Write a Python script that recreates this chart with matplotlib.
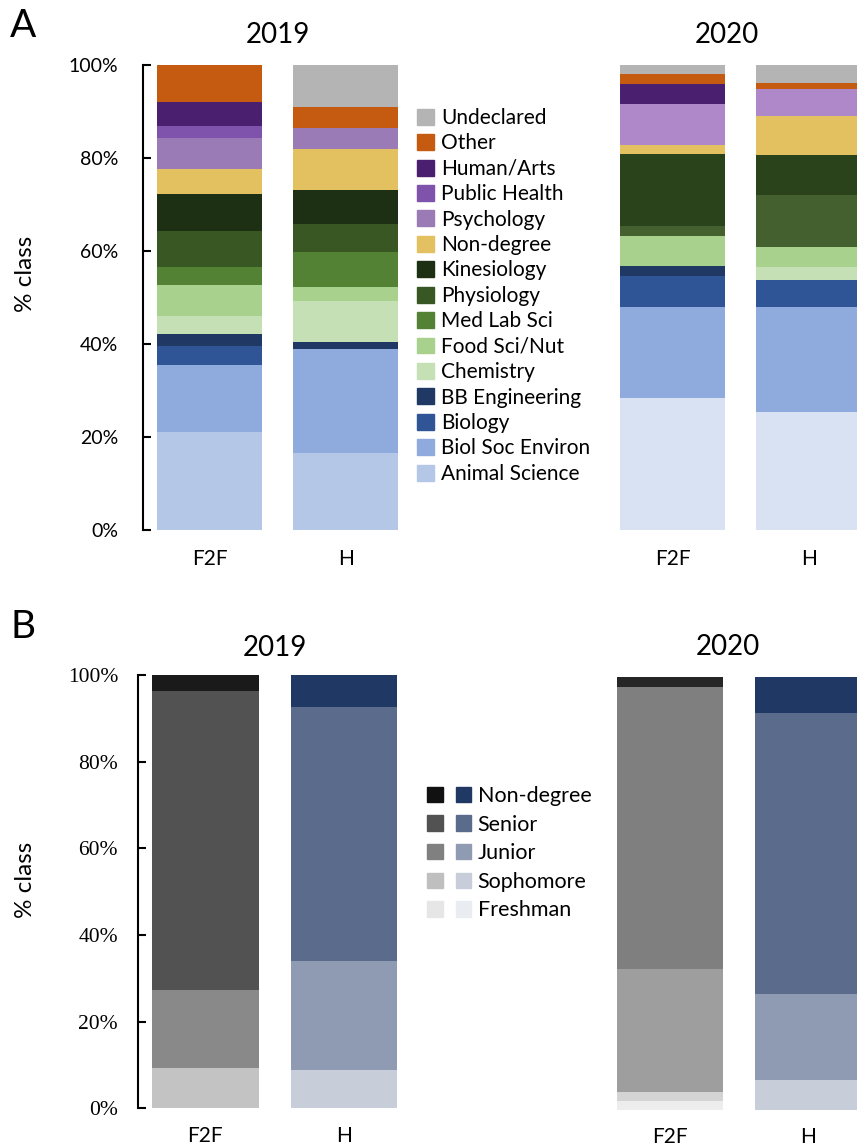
import matplotlib
matplotlib.use("Agg")
import matplotlib.pyplot as plt
from matplotlib.patches import Patch
from matplotlib.legend_handler import HandlerTuple

plt.rcParams['font.family'] = ['Lato', 'DejaVu Sans']

modes = ["F2F", "H"]
years = ["2019", "2020"]

# majors, listed bottom to top of each stacked bar
majors = ["Animal Science", "Biol Soc Environ", "Biology", "BB Engineering", "Chemistry",
          "Food Sci/Nut", "Med Lab Sci", "Physiology", "Kinesiology", "Non-degree",
          "Psychology", "Public Health", "Human/Arts", "Other", "Undeclared"]
f2f_2019 = [21.1, 14.4, 4.1, 2.6, 3.8, 6.6, 3.9, 7.9, 7.9, 5.3, 6.6, 2.6, 5.2, 8.0, 0.0]
h_2019 = [16.5, 22.4, 0.0, 1.5, 8.9, 2.9, 7.5, 6.0, 7.4, 8.9, 4.5, 0.0, 0.0, 4.4, 9.1]
f2f_2020 = [28.3, 19.7, 6.6, 2.2, 0.0, 6.5, 0.0, 2.1, 15.4, 2.1, 8.7, 0.0, 4.4, 2.1, 1.9]
h_2020 = [25.4, 22.6, 5.8, 0.0, 2.7, 4.4, 0.0, 11.2, 8.5, 8.5, 5.7, 0.0, 0.0, 1.4, 3.8]

major_colors = ["#b4c7e7", "#8faadc", "#2f5597", "#203864", "#c5e0b4",
                "#a9d18e", "#548235", "#385723", "#1e3014", "#e3c060",
                "#9b7bb5", "#7f52ac", "#4b1f6f", "#c55a11", "#b4b4b4"]
major_colors_2020 = ["#d9e2f3", "#8faadc", "#2f5597", "#203864", "#c5e0b4",
                     "#a9d18e", "#548235", "#44602f", "#2a431b", "#e3c060",
                     "#ae88c8", "#7f52ac", "#4b1f6f", "#c55a11", "#b4b4b4"]

# class standing, bottom to top
standing = ["Freshman", "Sophomore", "Junior", "Senior", "Non-degree"]
f2f_2019_cls = [0.0, 9.2, 18.2, 68.8, 3.8]
h_2019_cls = [0.0, 8.9, 25.0, 58.8, 7.3]
f2f_2020_cls = [2.1, 2.1, 28.4, 65.2, 2.2]
h_2020_cls = [0.0, 7.0, 19.8, 64.9, 8.3]

gray_2019 = ["#e8e8e8", "#c3c3c3", "#898989", "#525252", "#1a1a1a"]
gray_2020 = ["#ededed", "#d4d4d4", "#9e9e9e", "#7f7f7f", "#262626"]
blues = ["#e9ecf1", "#c8ced9", "#8f9bb3", "#5a6b8c", "#203864"]
gray_key = ["#e6e6e6", "#bfbfbf", "#808080", "#525252", "#111111"]

W, H = 857, 1147
fig = plt.figure(figsize=(W / 100, H / 100), dpi=100)


def px_axes(left, top, right, bottom):
    return fig.add_axes([left / W, 1 - bottom / H, (right - left) / W, (bottom - top) / H])


def stack(ax, x, values, colors):
    base = 0
    for v, c in zip(values, colors):
        ax.bar(x, v, 0.77, bottom=base, color=c, linewidth=0)
        base += v


def style(ax, show_y, serif, xpad):
    ax.set_ylim(0, 100)
    ax.set_xlim(-0.49, 1.5)
    ax.set_xticks([0, 1])
    ax.set_xticklabels(modes, fontsize=15)
    ax.tick_params(axis='x', length=0, pad=xpad)
    for s in ["top", "right", "bottom"]:
        ax.spines[s].set_visible(False)
    if show_y:
        ax.spines["left"].set_linewidth(1.5)
        ax.set_yticks(range(0, 101, 20))
        if serif:
            ax.set_yticklabels([f"{v}%" for v in range(0, 101, 20)],
                               family="Liberation Serif", fontsize=15.5)
            ax.tick_params(axis='y', direction='in', length=6, width=1.5, pad=14)
        else:
            ax.set_yticklabels([f"{v}%" for v in range(0, 101, 20)], fontsize=14)
            ax.tick_params(axis='y', direction='in', length=6, width=1.5, pad=18)
    else:
        ax.spines["left"].set_visible(False)
        ax.set_yticks([])


# Panel A: majors
axA1 = px_axes(143, 65, 413.6, 530)
stack(axA1, 0, f2f_2019, major_colors)
stack(axA1, 1, h_2019, major_colors)
style(axA1, True, False, 14)
axA1.set_title("2019", fontsize=20, pad=16)

axA2 = px_axes(606.2, 65, 876.8, 530)
stack(axA2, 0, f2f_2020, major_colors_2020)
stack(axA2, 1, h_2020, major_colors_2020)
style(axA2, False, False, 14)
axA2.set_title("2020", fontsize=20, pad=16, x=0.447)

handles = [Patch(color=c) for c in major_colors][::-1]
fig.legend(handles, majors[::-1], loc="upper left", bbox_to_anchor=(417 / W, 1 - 108 / H),
           frameon=False, fontsize=15, handlelength=0.8, handleheight=0.8,
           handletextpad=0.35, labelspacing=0.26, borderpad=0, borderaxespad=0)

# Panel B: class standing
axB1 = px_axes(137.5, 675, 413.3, 1108.3)
stack(axB1, 0, f2f_2019_cls, gray_2019)
stack(axB1, 1, h_2019_cls, blues)
style(axB1, True, True, 13)
axB1.set_title("2019", fontsize=20, pad=14)

axB2 = px_axes(602, 677, 877.8, 1110)
stack(axB2, 0, f2f_2020_cls, gray_2020)
stack(axB2, 1, h_2020_cls, blues)
style(axB2, False, True, 12)
axB2.set_title("2020", fontsize=20, pad=16, x=0.457)

pairs = [(Patch(color=g), Patch(color=b)) for g, b in zip(gray_key, blues)][::-1]
fig.legend(pairs, standing[::-1], loc="upper left", bbox_to_anchor=(427 / W, 1 - 786 / H),
           frameon=False, fontsize=15.5, handlelength=2.05, handleheight=0.72,
           handletextpad=0.3, labelspacing=0.4, borderpad=0, borderaxespad=0,
           handler_map={tuple: HandlerTuple(ndivide=None, pad=0.6)})

fig.text(25 / W, 1 - 274 / H, "% class", rotation=90, ha="center", va="center", fontsize=17.5)
fig.text(25 / W, 1 - 880 / H, "% class", rotation=90, ha="center", va="center", fontsize=17.5)
fig.text(10 / W, 1 - 37 / H, "A", fontsize=28, va="baseline")
fig.text(10 / W, 1 - 638 / H, "B", fontsize=28, va="baseline")

fig.savefig("out.png", dpi=100)
